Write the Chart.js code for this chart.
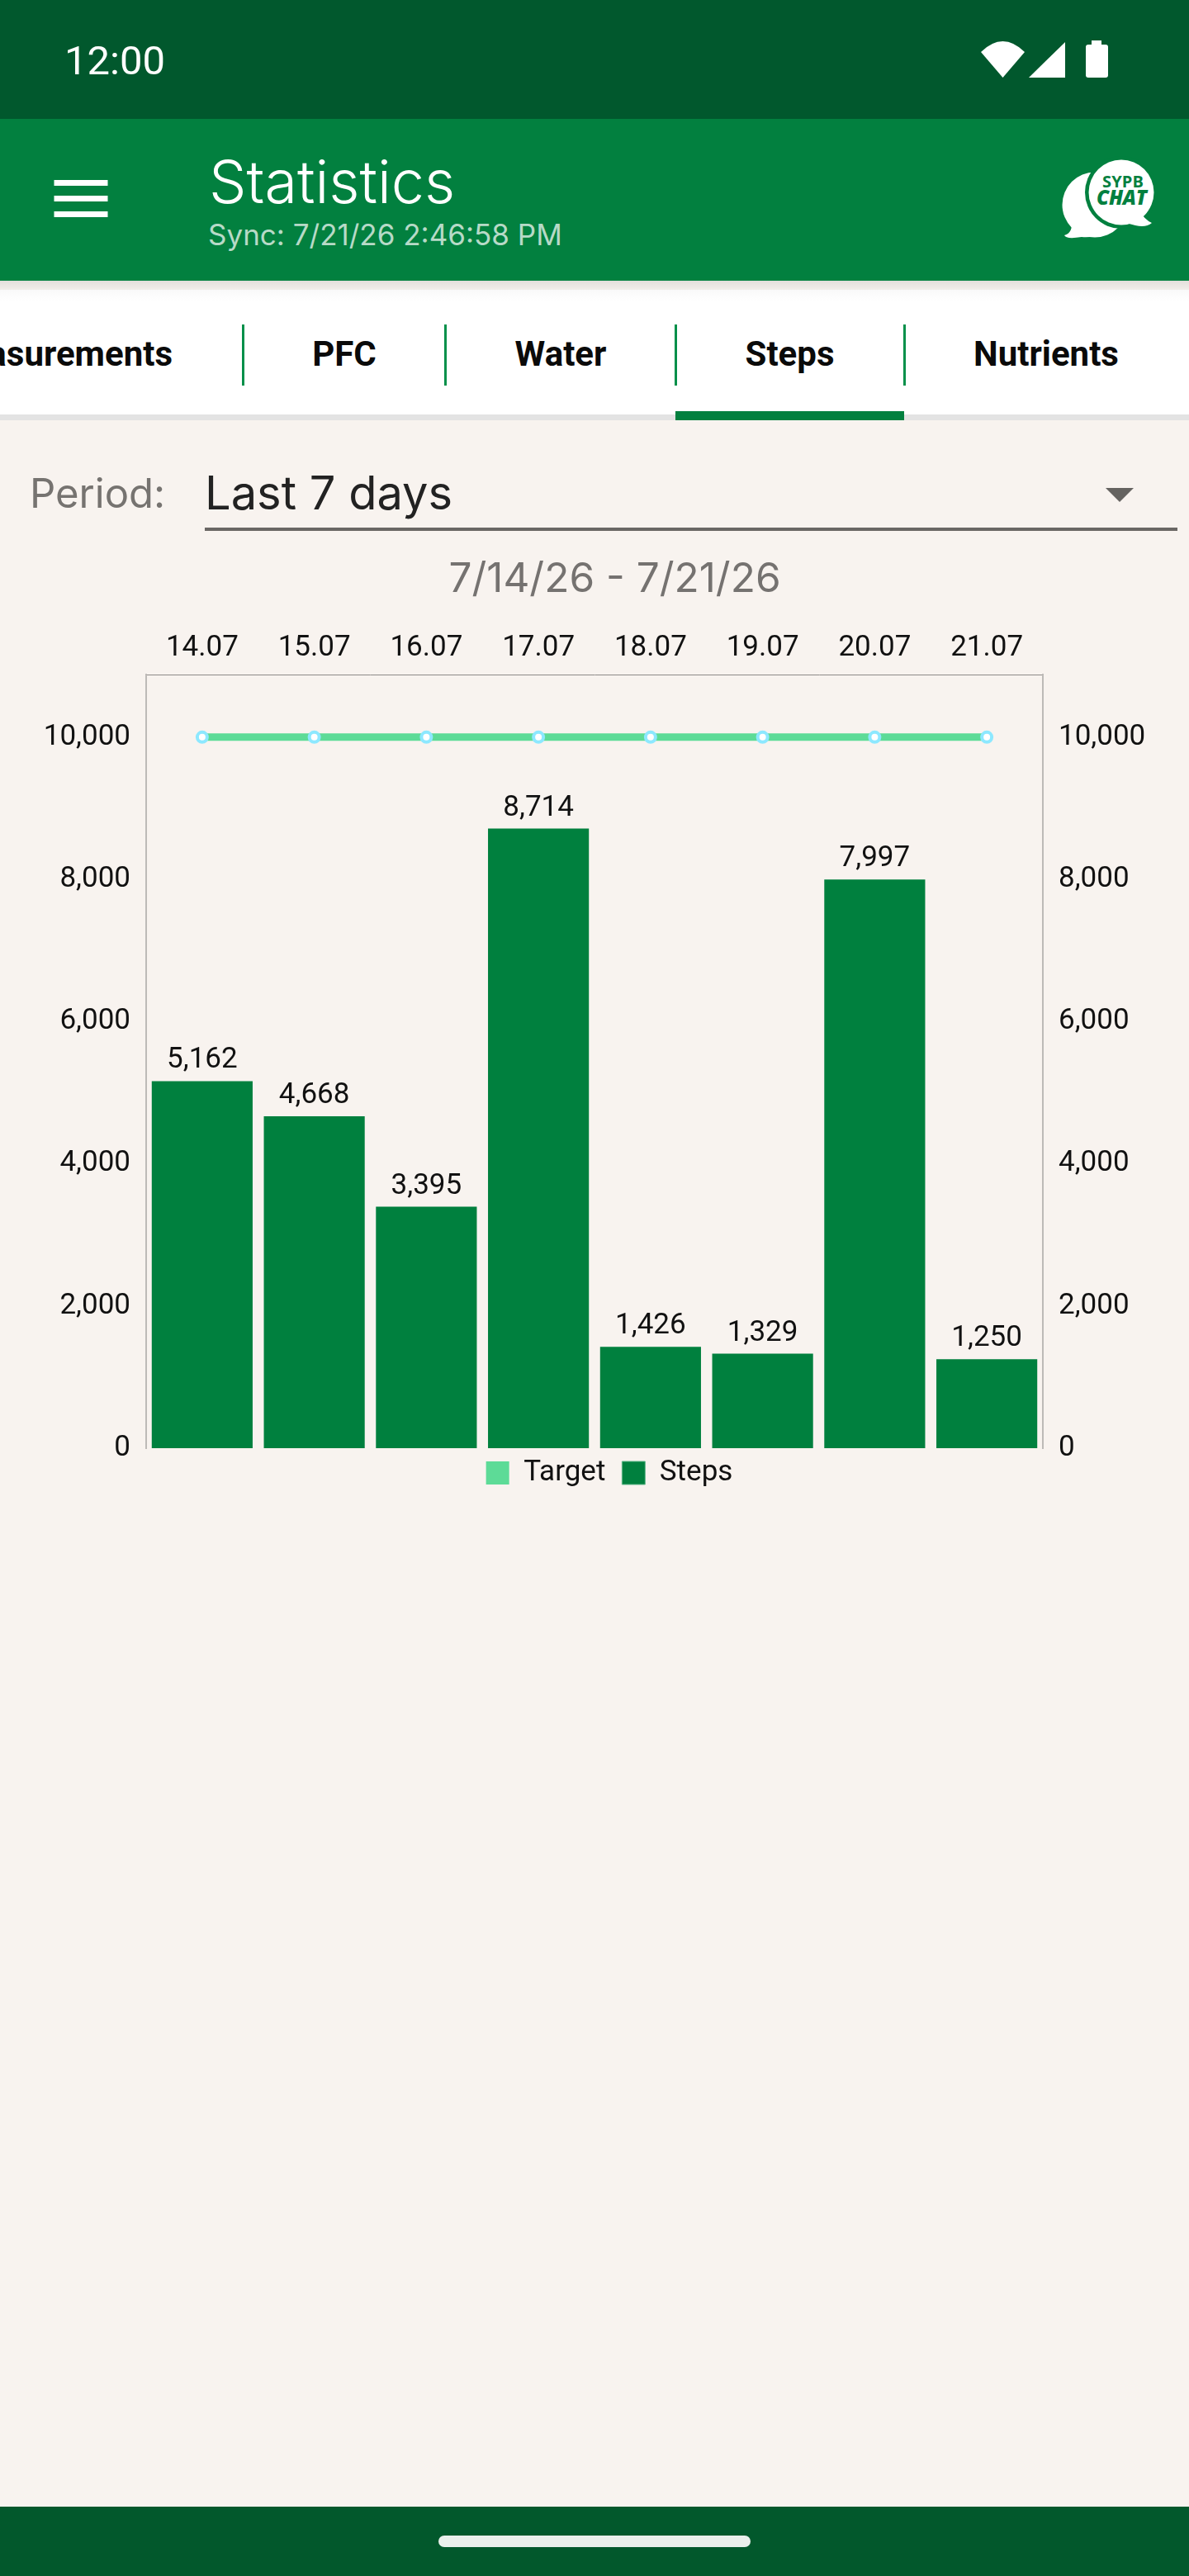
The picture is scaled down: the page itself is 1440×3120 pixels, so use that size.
<!DOCTYPE html>
<html>
<head>
<meta charset="utf-8">
<script src="https://cdn.jsdelivr.net/npm/chart.js@4/dist/chart.umd.min.js"></script>
<style>
html,body{margin:0;padding:0;background:#f8f3ef;width:1440px;height:3120px;overflow:hidden}
svg#ui{position:absolute;left:0;top:0}
canvas#c{position:absolute;left:0;top:740px}
</style>
</head>
<body>
<svg id="ui" width="1440" height="3120" viewBox="0 0 1440 3120" xmlns="http://www.w3.org/2000/svg">
  <defs>
    <linearGradient id="sh" x1="0" y1="0" x2="0" y2="1"><stop offset="0" stop-color="#e3dfdb"/><stop offset="1" stop-color="#f2eeea"/></linearGradient>
    <linearGradient id="wh" x1="0" y1="0" x2="0" y2="1"><stop offset="0" stop-color="#f9f9f9"/><stop offset="1" stop-color="#ffffff"/></linearGradient>
  </defs>
  <!-- status bar -->
  <rect x="0" y="0" width="1440" height="144" fill="#01582d"/>
  <text x="78" y="90" font-family="Roboto" font-size="49" fill="#fff">12:00</text>
  <path d="M1214.5 94 L1188 63 Q1214.5 37 1241 63 Z" fill="#fff"/>
  <path d="M1246 94 L1290 51 L1290 94 Z" fill="#fff"/>
  <rect x="1315" y="54" width="27" height="40" rx="3" fill="#fff"/>
  <rect x="1322" y="49" width="12" height="6" fill="#fff"/>
  <!-- toolbar -->
  <rect x="0" y="144" width="1440" height="196" fill="#02803f"/>
  <rect x="65.5" y="218" width="65" height="7" fill="#fff"/>
  <rect x="65.5" y="237" width="65" height="7" fill="#fff"/>
  <rect x="65.5" y="256" width="65" height="7" fill="#fff"/>
  <text x="253" y="245.5" font-family="Inter" font-weight="300" font-size="72" fill="#fff">Statistics</text>
  <text x="252" y="296.5" font-family="Inter" font-size="35" fill="#b7dac7">Sync: 7/21/26 2:46:58 PM</text>
  <!-- chat icon -->
  <circle cx="1326" cy="248" r="39.5" fill="#fff"/>
  <path d="M1298 265 Q1300 282 1289 285 Q1291 290 1310 287 Q1322 288 1340 284 Z" fill="#fff"/>
  <circle cx="1358" cy="233" r="44" fill="#02803f"/>
  <circle cx="1358" cy="233" r="39.5" fill="#fff"/>
  <path d="M1380 255 Q1386 266 1395 270 Q1388 276 1375 273 Q1365 270 1360 270 Z" fill="#fff"/>
  <text x="1335" y="227" font-family="Open Sans" font-weight="700" font-size="20" fill="#02803f" textLength="50">SYPB</text>
  <text x="1328" y="248" font-family="Open Sans" font-weight="800" font-style="italic" font-size="24" fill="#02803f" textLength="61">CHAT</text>
  <!-- tabs -->
  <rect x="0" y="340" width="1440" height="11" fill="url(#sh)"/>
  <rect x="0" y="351" width="1440" height="151" fill="#fff"/>
  <rect x="0" y="351" width="1440" height="14" fill="url(#wh)"/>
  <rect x="0" y="502" width="1440" height="7" fill="#e3e3e3"/>
  <rect x="818" y="498" width="277" height="11" fill="#02803f"/>
  <rect x="293" y="393" width="3" height="74" fill="#03904a"/>
  <rect x="538" y="393" width="3" height="74" fill="#03904a"/>
  <rect x="817" y="393" width="3" height="74" fill="#03904a"/>
  <rect x="1094" y="393" width="3" height="74" fill="#03904a"/>
  <g font-family="Roboto" font-weight="700" font-size="42" fill="#0a0a0a">
    <text x="209" y="443" text-anchor="end">Measurements</text>
    <text x="417" y="443" text-anchor="middle">PFC</text>
    <text x="679" y="443" text-anchor="middle">Water</text>
    <text x="956.5" y="443" text-anchor="middle">Steps</text>
    <text x="1267" y="443" text-anchor="middle">Nutrients</text>
  </g>
  <!-- period -->
  <text x="36" y="615" font-family="Inter" font-size="49" fill="#767370">Period:</text>
  <text x="248" y="617" font-family="Inter" font-size="56" fill="#222">Last 7 days</text>
  <rect x="248" y="639" width="1178" height="4" fill="#6a6764"/>
  <path d="M1339 591 L1373 591 L1356 608 Z" fill="#656360"/>
  <text x="744.5" y="717" text-anchor="middle" font-family="Inter" font-size="49.5" fill="#757270">7/14/26 - 7/21/26</text>
  <!-- nav bar -->
  <rect x="0" y="3036" width="1440" height="84" fill="#02582c"/>
  <rect x="531" y="3071" width="378" height="14" rx="7" fill="#eaf0ec"/>
</svg>
<canvas id="c" width="1440" height="1079"></canvas>
<script>
const categories = ["14.07","15.07","16.07","17.07","18.07","19.07","20.07","21.07"];
const targetValues = [10000,10000,10000,10000,10000,10000,10000,10000];
const stepsValues = [5162,4668,3395,8714,1426,1329,7997,1250];
const seriesNames = ["Target","Steps"];
const tickValues = [0,2000,4000,6000,8000,10000];
const axisMax = 10880;

const FONT = {family:"Roboto", size:35};
const INK = "#111";
const fmt = v => Number(v).toLocaleString("en-US");

const valueLabels = {
  id:"valueLabels",
  afterDatasetsDraw(chart){
    const meta = chart.getDatasetMeta(1), ctx = chart.ctx;
    ctx.save();
    ctx.font = "35px Roboto";
    ctx.fillStyle = INK;
    ctx.textAlign = "center";
    ctx.textBaseline = "alphabetic";
    meta.data.forEach((bar,i)=>ctx.fillText(fmt(stepsValues[i]), bar.x, bar.y-16));
    ctx.restore();
  }
};
const legendShift = {
  id:"legendShift",
  afterLayout(chart){ chart.legend.top -= 7.5; }
};
const yAxis = (position,width) => ({
  position, min:0, max:axisMax,
  grid:{display:false, drawTicks:false},
  border:{display:true, color:"#bdbab7", width:2},
  ticks:{font:FONT, color:INK, padding:19, callback:fmt},
  afterBuildTicks(s){ s.ticks = tickValues.map(value=>({value})); },
  afterFit(s){ s.width = width; }
});

new Chart(document.getElementById("c"),{
  type:"bar",
  data:{
    labels:categories,
    datasets:[
      {type:"line", label:seriesNames[0], data:targetValues, yAxisID:"y", order:0,
       borderColor:"#5ddb97", backgroundColor:"#5ddb97", borderWidth:9, tension:0, fill:false,
       pointRadius:6, pointBorderWidth:4, pointBorderColor:"#8de8ff", pointBackgroundColor:"#ffffff"},
      {type:"bar", label:seriesNames[1], data:stepsValues, yAxisID:"y", order:1,
       backgroundColor:"#00803e", borderWidth:0, barPercentage:0.9, categoryPercentage:1}
    ]
  },
  options:{
    responsive:false, animation:false, devicePixelRatio:1,
    layout:{padding:{left:36,right:0,top:0,bottom:0}},
    plugins:{
      tooltip:{enabled:false},
      title:{display:false},
      legend:{
        display:true, position:"bottom", align:"center",
        labels:{
          boxWidth:28, boxHeight:28, padding:20, font:FONT, color:INK,
          generateLabels(chart){
            return Chart.defaults.plugins.legend.labels.generateLabels(chart).map((it,i)=>{
              it.lineWidth = i===1 ? 1 : 0;
              it.strokeStyle = "#62b98c";
              it.fillStyle = i===1 ? "#00803e" : "#5ddb97";
              return it;
            });
          }
        }
      }
    },
    scales:{
      x:{
        position:"top", offset:true,
        grid:{display:false, drawTicks:false},
        border:{display:true, color:"#8c8a88", width:1},
        ticks:{font:FONT, color:INK, padding:11, maxRotation:0, autoSkip:false},
        afterFit(s){ s.height = 77; }
      },
      y: yAxis("left",141),
      y2: yAxis("right",177)
    }
  },
  plugins:[valueLabels,legendShift]
});
</script>
</body>
</html>
